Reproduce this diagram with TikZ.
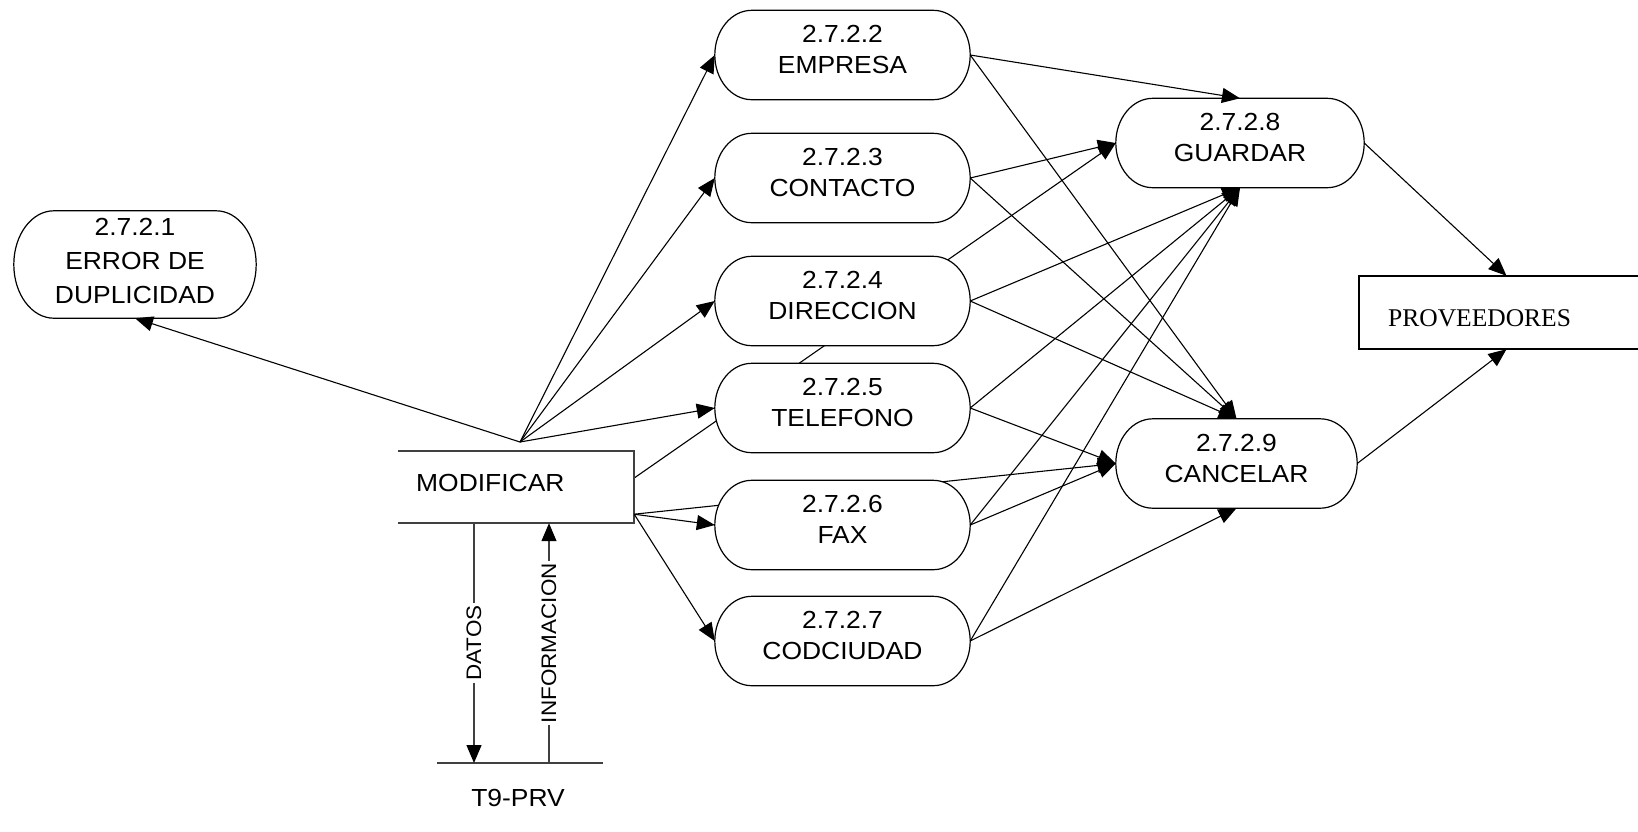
\documentclass[tikz,border=0pt]{standalone}
\usepackage{fontspec}
\setmainfont{Liberation Sans}
\newfontfamily\arl[FakeStretch=1.07]{Liberation Sans}
\newfontfamily\tms{Liberation Serif}
\usetikzlibrary{arrows.meta,calc}
\pgfdeclarelayer{bg}
\pgfdeclarelayer{mid}
\pgfsetlayers{bg,mid,main}

% outline of a process bubble: straight top and bottom, half-ellipse ends
\newcommand\drawproc[2]{%
  \draw[outl] let \p1=(#1.north east), \p2=(#1.south west) in
    (\x2+#2,\y1) -- (\x1-#2,\y1)
    arc[start angle=90,end angle=-90,x radius=#2,y radius={(\y1-\y2)/2}]
    -- (\x2+#2,\y2)
    arc[start angle=270,end angle=90,x radius=#2,y radius={(\y1-\y2)/2}]
    -- cycle;}
% extra depth under the last text line, lifting the label a little
\newcommand\lowpad{\rule[-11pt]{0pt}{0pt}}

\begin{document}
\begin{tikzpicture}[x=1pt,y=1pt,
  proc/.style={inner sep=0pt, align=center, font=\arl\fontsize{24.7}{31}\selectfont},
  outl/.style={draw=black, fill=white, line width=1.2pt},
  flow/.style={draw=black, line width=1.1pt, -{Triangle[length=18pt,width=15pt,color=black]}},
  store/.style={draw=black!75, line width=1.6pt},
  tag/.style={font=\arl\fontsize{21}{24}\selectfont, fill=white, inner sep=2pt, rotate=90},
  txt/.style={inner sep=0pt, font=\arl\fontsize{24.7}{31}\selectfont}
]
\useasboundingbox (0,0) rectangle (1638,-831);

% process bubbles
\node[proc, font=\arl\fontsize{24.7}{34}\selectfont, minimum width=242pt, minimum height=107pt] (p1) at (135,-264.5) {2.7.2.1\\ERROR DE\\DUPLICIDAD\rule[-8pt]{0pt}{0pt}};
\node[proc, minimum width=255pt, minimum height=89pt] (p2) at (842.5,-55) {2.7.2.2\\EMPRESA\lowpad};
\node[proc, minimum width=255pt, minimum height=89pt] (p3) at (842.5,-178) {2.7.2.3\\CONTACTO\lowpad};
\node[proc, minimum width=255pt, minimum height=89pt] (p4) at (842.5,-301) {2.7.2.4\\DIRECCION\lowpad};
\node[proc, minimum width=255pt, minimum height=89pt] (p5) at (842.5,-408) {2.7.2.5\\TELEFONO\lowpad};
\node[proc, minimum width=255pt, minimum height=89pt] (p6) at (842.5,-525) {2.7.2.6\\FAX\lowpad};
\node[proc, minimum width=255pt, minimum height=89pt] (p7) at (842.5,-641) {2.7.2.7\\CODCIUDAD\lowpad};
\node[proc, minimum width=248pt, minimum height=89pt] (p8) at (1240,-143) {2.7.2.8\\GUARDAR\lowpad};
\node[proc, minimum width=241pt, minimum height=89pt] (p9) at (1236.5,-463.5) {2.7.2.9\\CANCELAR\lowpad};

\begin{pgfonlayer}{mid}
  \drawproc{p1}{40pt}
  \foreach \q in {p2,p3,p4,p5,p6,p7,p8,p9} {\drawproc{\q}{37pt}}
\end{pgfonlayer}

% MODIFICAR box (open on the left)
\node[minimum width=236pt, minimum height=72pt, inner sep=0pt] (m) at (516,-487) {};
\draw[store] (m.north west) -- (m.north east) -- (m.south east) -- (m.south west);
\node[txt, anchor=base west] (mtxt) at (416,-491) {MODIFICAR};

% PROVEEDORES store (runs off the right edge)
\node[minimum width=279pt, minimum height=73pt, inner sep=0pt] (prov) at (1498.5,-312.5) {};
\draw[black, line width=1.8pt] (prov.north east) -- (prov.north west) -- (prov.south west) -- (prov.south east);
\node[inner sep=0pt, anchor=base west, font=\tms\fontsize{25.5}{30}\selectfont] (provtxt) at (1388,-326) {PROVEEDORES};

% T9-PRV store
\coordinate (t9a) at (437,-763);
\coordinate (t9b) at (603,-763);
\draw[store] (t9a) -- (t9b);
\node[txt, anchor=base] (t9) at (518,-806.5) {T9-PRV};

\coordinate (dbot) at (474,-763);
\coordinate (ibot) at (549,-763);
\draw[flow, draw=black!75, line width=1.3pt] (m.south -| dbot) -- (dbot) node[tag, midway] (datos) {DATOS};
\draw[flow, draw=black!75, line width=1.3pt] (ibot) -- (m.south -| ibot) node[tag, midway] (info) {INFORMACION};

% flows leaving MODIFICAR
\coordinate (fan) at (520,-442);
\coordinate (mr1) at ($(m.east)+(0,9)$);
\coordinate (mr2) at ($(m.south east)+(0,9)$);
\draw[flow] (fan) -- (p1.south);
\draw[flow] (fan) -- (p2.west);
\draw[flow] (fan) -- (p3.west);
\draw[flow] (fan) -- (p4.west);
\draw[flow] (fan) -- (p5.west);
\draw[flow] (mr2) -- (p6.west);
\draw[flow] (mr2) -- (p7.west);
\begin{pgfonlayer}{bg}
  \draw[flow] (mr1) -- (p8.west);
  \draw[flow] (mr2) -- (p9.west);
\end{pgfonlayer}

% flows into GUARDAR and CANCELAR
\draw[flow] (p2.east) -- (p8.north);
\draw[flow] (p2.east) -- (p9.north);
\draw[flow] (p3.east) -- (p8.west);
\draw[flow] (p3.east) -- (p9.north);
\draw[flow] (p4.east) -- (p8.south);
\draw[flow] (p4.east) -- (p9.north);
\draw[flow] (p5.east) -- (p8.south);
\draw[flow] (p5.east) -- (p9.west);
\draw[flow] (p6.east) -- (p8.south);
\draw[flow] (p6.east) -- (p9.west);
\draw[flow] (p7.east) -- (p8.south);
\draw[flow] (p7.east) -- (p9.south);

% results stored in PROVEEDORES
\draw[flow] (p8.east) -- ($(prov.north)+(8,0)$);
\draw[flow] (p9.east) -- ($(prov.south)+(8,0)$);
\end{tikzpicture}
\end{document}
